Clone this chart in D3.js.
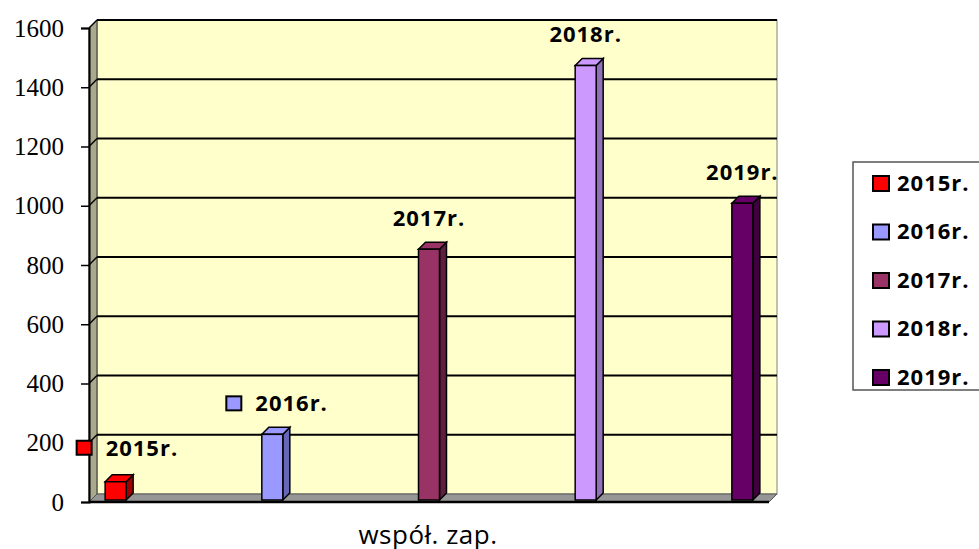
<!DOCTYPE html>
<html>
<head>
<meta charset="utf-8">
<script src="https://cdn.jsdelivr.net/npm/d3@7"></script>
<style>
  body { margin: 0; background: #fff; }
  svg { display: block; }
</style>
</head>
<body>
<div id="chart"></div>
<script>
const category = "współ. zap.";
const seriesNames = ["2015r.", "2016r.", "2017r.", "2018r.", "2019r."];
const seriesValues = [65, 225, 850, 1470, 1005];
const yTicks = [0, 200, 400, 600, 800, 1000, 1200, 1400, 1600];

const fills = ["#ff0000", "#9999ff", "#993366", "#cc99ff", "#660066"];
const sides = ["#a00000", "#6666b8", "#5e1f40", "#9070b8", "#400040"];
const showKey = [true, true, false, false, false];

const width = 979, height = 549;
const depth = 8; // wall depth offset
const x0 = 89, x1 = 769, yTop = 28, yBot = 502;

const svg = d3.select("#chart").append("svg")
  .attr("width", width)
  .attr("height", height);

// front scale (value -> y on the front plane)
const y = d3.scaleLinear().domain([0, 1600]).range([yBot, yTop]);
const x = d3.scalePoint().domain(seriesNames).range([x0, x1]).padding(0.17);

// back wall
svg.append("rect")
  .attr("x", x0 + depth).attr("y", yTop - depth)
  .attr("width", x1 - x0).attr("height", yBot - yTop)
  .attr("fill", "#ffffcc")
  .attr("stroke", "#808080");

// left wall
svg.append("polygon")
  .attr("points", [[x0, yTop], [x0 + depth, yTop - depth], [x0 + depth, yBot - depth], [x0, yBot]].join(" "))
  .attr("fill", "#a9a98d")
  .attr("stroke", "#333");

// floor
svg.append("polygon")
  .attr("points", [[x0, yBot], [x0 + depth, yBot - depth], [x1 + depth, yBot - depth], [x1, yBot]].join(" "))
  .attr("fill", "#969696")
  .attr("stroke", "#555");

// gridlines (back wall + left wall)
const grid = svg.append("g");
grid.selectAll("line.back")
  .data(yTicks.filter((d) => d > 0))
  .enter().append("line")
  .attr("class", "back")
  .attr("x1", x0 + depth).attr("x2", x1 + depth)
  .attr("y1", (d) => y(d) - depth).attr("y2", (d) => y(d) - depth)
  .attr("stroke", "#000").attr("stroke-width", 2);
grid.selectAll("line.side")
  .data(yTicks.filter((d) => d > 0))
  .enter().append("line")
  .attr("class", "side")
  .attr("x1", x0).attr("x2", x0 + depth)
  .attr("y1", (d) => y(d)).attr("y2", (d) => y(d) - depth)
  .attr("stroke", "#000").attr("stroke-width", 1.5);

// y axis
const yAxis = svg.append("g")
  .attr("transform", `translate(${x0},0)`)
  .call(d3.axisLeft(y).tickValues(yTicks).tickSize(8).tickPadding(17).tickFormat(d3.format("d")));
yAxis.select(".domain").attr("stroke", "#000").attr("stroke-width", 2);
yAxis.selectAll(".tick line").attr("stroke", "#000").attr("stroke-width", 1.5);
yAxis.selectAll(".tick text")
  .attr("font-family", "'Liberation Serif', serif")
  .attr("font-size", 25)
  .attr("fill", "#000");

// bottom front edge
svg.append("line")
  .attr("x1", x0).attr("x2", x1)
  .attr("y1", yBot).attr("y2", yBot)
  .attr("stroke", "#000").attr("stroke-width", 2.5);

// bars
const bw = 21, bd = 7;
const bars = svg.append("g").selectAll("g")
  .data(seriesNames.map((name, i) => ({ name, value: seriesValues[i], i })))
  .enter().append("g");

bars.each(function (d) {
  const g = d3.select(this);
  const bx = x(d.name) - bw / 2;
  const yt = y(d.value) - 1, yb = y(0) - 2;
  g.append("polygon")
    .attr("points", [[bx + bw, yt], [bx + bw + bd, yt - bd], [bx + bw + bd, yb - bd], [bx + bw, yb]].join(" "))
    .attr("fill", sides[d.i]).attr("stroke", "#000").attr("stroke-width", 1.5);
  g.append("polygon")
    .attr("points", [[bx, yt], [bx + bd, yt - bd], [bx + bw + bd, yt - bd], [bx + bw, yt]].join(" "))
    .attr("fill", fills[d.i]).attr("stroke", "#000").attr("stroke-width", 1.5);
  g.append("rect")
    .attr("x", bx).attr("y", yt)
    .attr("width", bw).attr("height", yb - yt)
    .attr("fill", fills[d.i]).attr("stroke", "#000").attr("stroke-width", 1.5);
});

// data labels
const labelFont = "'Open Sans', sans-serif";
bars.each(function (d) {
  const g = d3.select(this);
  const cx = x(d.name);
  const cy = y(d.value) - (d.i === 0 ? 35 : 32);
  if (showKey[d.i]) {
    const startX = d.i === 0 ? cx - 39 : cx - 46;
    g.append("rect")
      .attr("x", startX).attr("y", cy - 7)
      .attr("width", 15).attr("height", 14)
      .attr("fill", fills[d.i]).attr("stroke", "#000").attr("stroke-width", 2);
    g.append("text")
      .attr("x", startX + 29).attr("y", cy)
      .attr("dy", "0.36em")
      .attr("font-family", labelFont).attr("font-weight", "bold")
      .attr("font-size", 22).attr("letter-spacing", 1)
      .attr("fill", "#000")
      .text(d.name);
  } else {
    g.append("text")
      .attr("x", cx).attr("y", cy)
      .attr("dy", "0.36em")
      .attr("text-anchor", "middle")
      .attr("font-family", labelFont).attr("font-weight", "bold")
      .attr("font-size", 22).attr("letter-spacing", 1)
      .attr("fill", "#000")
      .text(d.name);
  }
});

// x axis category label
svg.append("text")
  .attr("x", (x0 + x1) / 2 - 1).attr("y", 544)
  .attr("text-anchor", "middle")
  .attr("font-family", labelFont)
  .attr("font-size", 26)
  .attr("letter-spacing", 0.5)
  .attr("fill", "#000")
  .text(category);

// legend
const legend = svg.append("g");
legend.append("rect")
  .attr("x", 853).attr("y", 162)
  .attr("width", 160).attr("height", 228)
  .attr("fill", "#fff").attr("stroke", "#555").attr("stroke-width", 1.5);
const items = legend.selectAll("g.item")
  .data(seriesNames)
  .enter().append("g")
  .attr("class", "item")
  .attr("transform", (d, i) => `translate(873,${183 + i * 48.5})`);
items.append("rect")
  .attr("x", 0).attr("y", -7)
  .attr("width", 16).attr("height", 15)
  .attr("fill", (d, i) => fills[i]).attr("stroke", "#000").attr("stroke-width", 2);
items.append("text")
  .attr("x", 24).attr("y", 0)
  .attr("dy", "0.36em")
  .attr("font-family", labelFont).attr("font-weight", "bold")
  .attr("font-size", 22).attr("letter-spacing", 1)
  .attr("fill", "#000")
  .text((d) => d);
</script>
</body>
</html>
